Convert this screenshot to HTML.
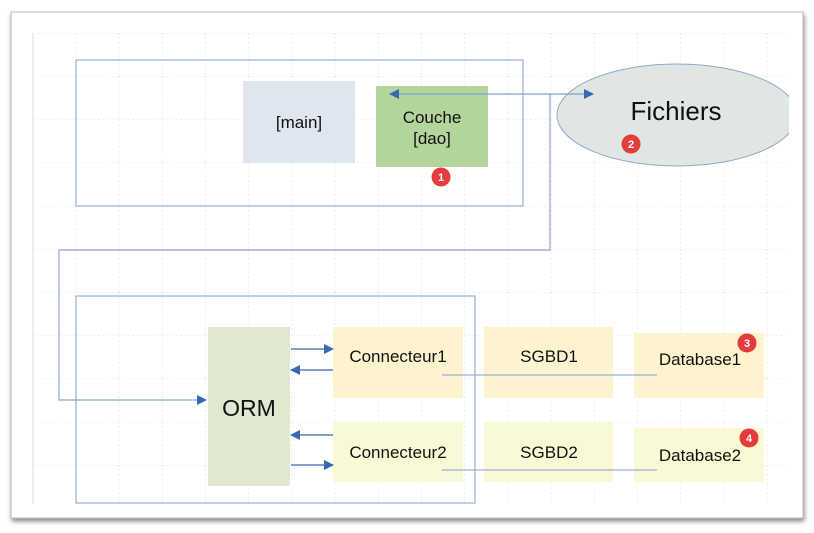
<!DOCTYPE html>
<html><head><meta charset="utf-8"><style>
html,body{margin:0;padding:0;background:#fff;}
svg{display:block;font-family:"Liberation Sans",sans-serif;}
</style></head><body>
<svg width="814" height="533" viewBox="0 0 814 533" xmlns="http://www.w3.org/2000/svg">
<defs>
<pattern id="g" x="32.5" y="33" width="43.2" height="43.2" patternUnits="userSpaceOnUse">
<path d="M0 0V43.2M0 0H43.2" stroke="#c8c8c8" stroke-width="0.8" stroke-dasharray="1.5 3" fill="none"/>
</pattern>
<filter id="sh" x="-5%" y="-5%" width="110%" height="110%"><feDropShadow dx="1" dy="3" stdDeviation="2.5" flood-color="#000" flood-opacity="0.45"/></filter>
<marker id="ar" viewBox="0 0 10 10" refX="9" refY="5" markerWidth="13" markerHeight="10" markerUnits="userSpaceOnUse" orient="auto"><path d="M0 0L10 5L0 10z" fill="#3a68b0"/></marker>
<marker id="as" viewBox="0 0 10 10" refX="1" refY="5" markerWidth="13" markerHeight="10" markerUnits="userSpaceOnUse" orient="auto"><path d="M10 0L0 5L10 10z" fill="#3a68b0"/></marker>
<clipPath id="cl"><rect x="33" y="33" width="756" height="471"/></clipPath>
</defs>
<rect x="11" y="12" width="792" height="506" fill="#fff" stroke="#bbb" filter="url(#sh)"/>
<rect x="33" y="33" width="756" height="471" fill="url(#g)"/>
<line x1="33" y1="33" x2="33" y2="504" stroke="#ddd"/>
<rect x="76" y="60" width="447" height="146" fill="none" stroke="#9ab0d6" stroke-width="1.2"/>
<rect x="243" y="81" width="112" height="82" fill="#dfe6f0"/>
<text x="299" y="128" font-size="17" text-anchor="middle" fill="#111">[main]</text>
<rect x="376" y="86" width="112" height="81" fill="#b3d49a"/>
<text x="432" y="123" font-size="17" text-anchor="middle" fill="#111">Couche</text>
<text x="432" y="144" font-size="17" text-anchor="middle" fill="#111">[dao]</text>
<g clip-path="url(#cl)"><ellipse cx="677" cy="115" rx="120" ry="51" fill="#dfe6e3" stroke="#8fa8cc"/></g>
<text x="676" y="120" font-size="26" text-anchor="middle" fill="#111">Fichiers</text>
<line x1="390" y1="94" x2="593" y2="94" stroke="#7fa0d0" stroke-width="1.2" marker-start="url(#as)" marker-end="url(#ar)"/>
<path d="M550 94V250H59V400H206" fill="none" stroke="#8aa6d2" stroke-width="1.2" marker-end="url(#ar)"/>
<rect x="76" y="296" width="399" height="207" fill="none" stroke="#9ab0d6" stroke-width="1.2"/>
<rect x="208" y="327" width="82" height="159" fill="#dfe9cf"/>
<text x="249" y="416" font-size="23" text-anchor="middle" fill="#111">ORM</text>
<rect x="333" y="327" width="130" height="71" fill="#fdf3cf"/>
<rect x="484" y="327" width="129" height="71" fill="#fdf3cf"/>
<rect x="634" y="333" width="130" height="65" fill="#fdf3cf"/>
<rect x="333" y="422" width="130" height="60" fill="#f9f9d6"/>
<rect x="484" y="422" width="129" height="60" fill="#f9f9d6"/>
<rect x="634" y="428" width="130" height="54" fill="#f9f9d6"/>
<g font-size="17" fill="#111" text-anchor="middle">
<text x="398" y="362">Connecteur1</text>
<text x="549" y="362">SGBD1</text>
<text x="700" y="365">Database1</text>
<text x="398" y="458">Connecteur2</text>
<text x="549" y="458">SGBD2</text>
<text x="700" y="461">Database2</text>
</g>
<g stroke="#3a68b0" stroke-width="1.2">
<line x1="291" y1="349" x2="333" y2="349" marker-end="url(#ar)"/>
<line x1="333" y1="370" x2="291" y2="370" marker-end="url(#ar)"/>
<line x1="333" y1="435" x2="291" y2="435" marker-end="url(#ar)"/>
<line x1="291" y1="465" x2="333" y2="465" marker-end="url(#ar)"/>
</g>
<line x1="442" y1="375" x2="657" y2="375" stroke="#9ab0d6" stroke-width="1.2"/>
<line x1="442" y1="470" x2="657" y2="470" stroke="#9ab0d6" stroke-width="1.2"/>
<g font-size="11" font-weight="bold" fill="#fff" text-anchor="middle">
<circle cx="441" cy="177" r="9.5" fill="#e43c3c"/><text x="441" y="181">1</text>
<circle cx="631" cy="144" r="9.5" fill="#e43c3c"/><text x="631" y="148">2</text>
<circle cx="747" cy="343" r="9.5" fill="#e43c3c"/><text x="747" y="347">3</text>
<circle cx="749" cy="438" r="9.5" fill="#e43c3c"/><text x="749" y="442">4</text>
</g>
</svg>
</body></html>
